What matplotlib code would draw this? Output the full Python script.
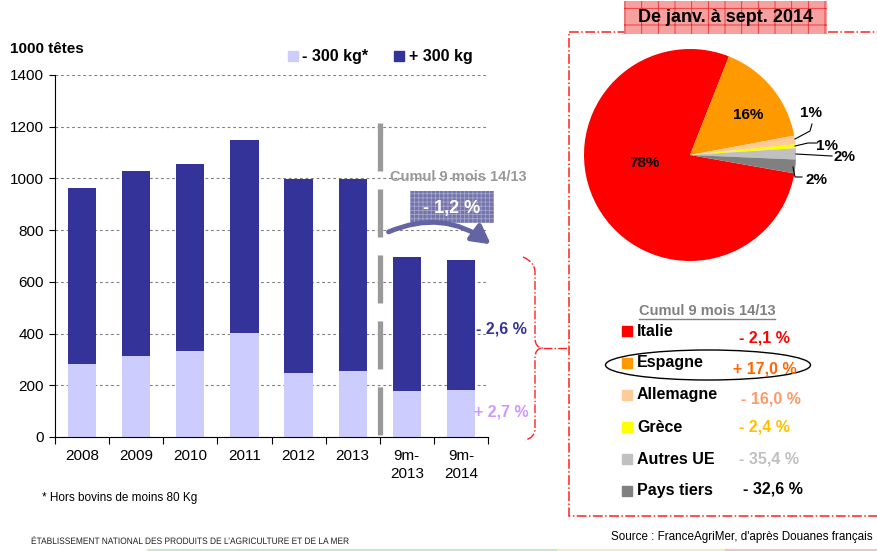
import matplotlib
matplotlib.use("Agg")
import matplotlib.pyplot as plt
from matplotlib.patches import Rectangle, Ellipse, FancyArrowPatch, PathPatch
from matplotlib.path import Path
from matplotlib.textpath import TextPath
from matplotlib.font_manager import FontProperties
from matplotlib.transforms import Affine2D
import numpy as np

plt.rcParams["font.family"] = ["Liberation Sans", "DejaVu Sans"]
plt.rcParams["hatch.linewidth"] = 0.6

W, H = 877, 551

# ---- bar chart: exports of live cattle, 1000 têtes ----
categories = ["2008", "2009", "2010", "2011", "2012", "2013", "9m-\n2013", "9m-\n2014"]
moins_300kg = [282, 313, 332, 402, 247, 254, 178, 182]
plus_300kg = [681, 716, 724, 746, 751, 744, 518, 502]
series_labels = ["- 300 kg*", "+ 300 kg"]
series_colors = ["#ccccff", "#333399"]
yticks = [0, 200, 400, 600, 800, 1000, 1200, 1400]

# ---- pie: destinations, janv.-sept. 2014 ----
pays = ["Italie", "Espagne", "Allemagne", "Grèce", "Autres UE", "Pays tiers"]
parts = [78.2, 16.1, 1.3, 0.6, 1.7, 2.1]
part_labels = ["78%", "16%", "1%", "1%", "2%", "2%"]
pie_colors = ["#ff0000", "#ff9900", "#ffcc99", "#ffff00", "#c0c0c0", "#808080"]
evolutions = ["- 2,1 %", "+ 17,0 %", "- 16,0 %", "- 2,4 %", "- 35,4 %", "- 32,6 %"]
evol_colors = ["#ff0000", "#ff6600", "#ff9966", "#ffc000", "#c0c0c0", "#000000"]

fig = plt.figure(figsize=(W / 100, H / 100), dpi=100)

# ---------------- bar chart ----------------
ax = fig.add_axes([55 / W, (H - 437) / H, (488 - 55) / W, (437 - 75) / H])
x = np.arange(len(categories))
ax.bar(x, moins_300kg, width=0.52, color=series_colors[0], zorder=2)
ax.bar(x, plus_300kg, width=0.52, bottom=moins_300kg, color=series_colors[1], zorder=2)
ax.set_xlim(-0.5, len(categories) - 0.5)
ax.set_ylim(0, 1400)
ax.set_yticks(yticks)
ax.tick_params(axis="y", direction="out", length=4, pad=4, labelsize=11)
ax.set_xticks(np.arange(-0.5, len(categories), 1))
ax.set_xticklabels([])
ax.set_xticks(x, minor=True)
ax.set_xticklabels(categories, minor=True, fontsize=11, linespacing=1.3)
ax.tick_params(axis="x", which="major", direction="out", length=5)
ax.tick_params(axis="x", which="minor", length=0, pad=9)
ax.yaxis.grid(True, linestyle=(0, (2.5, 2.5)), color="#808080", lw=0.8, zorder=0)
ax.set_axisbelow(True)
for s in ["top", "right"]:
    ax.spines[s].set_visible(False)
# gray separator between years and 9-month totals
ax.plot([5.5, 5.5], [1214, 0], color="#999999", lw=3.8, dashes=(9.1, 3.4),
        solid_capstyle="butt", dash_capstyle="butt", zorder=3, clip_on=False)

# ---------------- pie ----------------
r = 106
pax = fig.add_axes([(690 - r) / W, (H - 155 - r) / H, 2 * r / W, 2 * r / H])
pax.pie(parts, colors=pie_colors, startangle=-10, counterclock=False,
        wedgeprops=dict(linewidth=0))
pax.set_xlim(-1, 1)
pax.set_ylim(-1, 1)

# ---------------- overlay (pixel coords) ----------------
ov = fig.add_axes([0, 0, 1, 1])
ov.set_xlim(0, W)
ov.set_ylim(H, 0)
ov.axis("off")

ov.text(10, 49, "1000 têtes", fontsize=11, fontweight="bold", va="center")
for (sx, tx), lab, col in zip([(288, 302), (394, 409)], series_labels, series_colors):
    ov.add_patch(Rectangle((sx, 51), 10, 10, color=col))
    ov.text(tx, 56, lab, fontsize=11.5, fontweight="bold", va="center")

ov.text(42, 498, "* Hors bovins de moins 80 Kg", fontsize=8.5, va="center")

# condensed footer text: squeeze a text path horizontally
footer = "ÉTABLISSEMENT NATIONAL DES PRODUITS DE L\u2019AGRICULTURE ET DE LA MER"
tp = TextPath((0, 0), footer, size=9.3, prop=FontProperties(family="Liberation Sans"))
ext = tp.get_extents()
squeeze = 317 / ext.width
tp = Affine2D().scale(squeeze, -1).translate(31, 544).transform_path(tp)
ov.add_patch(PathPatch(tp, facecolor="#222222", lw=0))

ov.text(611, 537, "Source : FranceAgriMer, d'après Douanes français", fontsize=8.4,
        va="center")
# faint coloured rule at the bottom
for x0, x1, c in [(148, 558, "#c8e8c8"), (558, 726, "#eef0b0"), (726, 877, "#f4c0c0")]:
    ov.plot([x0, x1], [550, 550], color=c, lw=1.5)

# cumul annotation above 9-month bars
ov.text(458, 177, "Cumul 9 mois 14/13", fontsize=10.5, fontweight="bold",
        color="#999999", ha="center", va="center")
ov.add_patch(Rectangle((410, 191), 84, 32, facecolor="#7474ac", edgecolor="#a4a4cc",
                       hatch="++++", lw=0))
ov.text(452, 208, "- 1,2 %", fontsize=13, fontweight="bold", color="white",
        ha="center", va="center")
ov.add_patch(FancyArrowPatch((386, 233), (493, 246), connectionstyle="arc3,rad=-0.3",
                             arrowstyle="-|>,head_length=0.55,head_width=0.3",
                             color="#6464a4", lw=3.5, mutation_scale=20))
ov.text(501, 329, "- 2,6 %", fontsize=11.5, fontweight="bold", color="#333399",
        ha="center", va="center")
ov.text(501, 412, "+ 2,7 %", fontsize=11.5, fontweight="bold", color="#cc99ff",
        ha="center", va="center")

# red brace linking bars to right panel
brace = Path([(523, 257), (535, 262), (535, 272), (535, 338), (535, 348), (543, 348),
              (535, 348), (535, 358), (535, 428), (535, 438), (525, 440)],
             [Path.MOVETO, Path.CURVE3, Path.CURVE3, Path.LINETO, Path.CURVE3, Path.CURVE3,
              Path.CURVE3, Path.CURVE3, Path.LINETO, Path.CURVE3, Path.CURVE3])
ov.add_patch(PathPatch(brace, fill=False, edgecolor="#ff2020", lw=1, linestyle="-."))
ov.plot([543, 569], [348, 348], color="#ff2020", lw=1, linestyle="-.")

# right panel frame and title
ov.add_patch(Rectangle((569, 32), 330, 484, fill=False, edgecolor="#ff2020",
                       lw=1.1, linestyle="-.", clip_on=True))
ov.add_patch(Rectangle((624, 1), 203, 33, facecolor="#f6a0a0", edgecolor="#e83030",
                       hatch="+", lw=0))
ov.text(725, 18, "De janv. à sept. 2014", fontsize=13, fontweight="bold",
        ha="center", va="center")

# pie labels
label_xy = [(645, 163), (748, 115), (811, 113), (827, 146), (844, 157), (816, 180)]
for (lx, ly), lab in zip(label_xy, part_labels):
    ov.text(lx, ly, lab, fontsize=11, fontweight="bold", ha="center", va="center")
leaders = [[(795, 139), (810, 131), (812, 124)],
           [(795, 146), (808, 143), (817, 143)],
           [(796, 154), (832, 156)],
           [(793, 167), (795, 177), (802, 177)]]
for pts in leaders:
    xs, ys = zip(*pts)
    ov.plot(xs, ys, color="black", lw=0.8)

# legend with 9-month evolution
ov.text(707, 311, "Cumul 9 mois 14/13", fontsize=10.5, fontweight="bold",
        color="#808080", ha="center", va="center")
ov.plot([639, 775], [319, 319], color="#808080", lw=1)
pct_xy = [(764, 338), (765, 369), (771, 399), (764, 427), (769, 459), (773, 489)]
for i, (name, col, ev, ecol) in enumerate(zip(pays, pie_colors, evolutions, evol_colors)):
    y = 331 + 32 * i
    ov.add_patch(Rectangle((622, y - 5), 10, 10, color=col))
    ov.text(637, y, name, fontsize=11.5, fontweight="bold", va="center")
    px, py = pct_xy[i]
    ov.text(px, py, ev, fontsize=11.5, fontweight="bold", color=ecol,
            ha="center", va="center")
ov.add_patch(Ellipse((708, 365), 205, 30, fill=False, edgecolor="black", lw=1))

fig.savefig("out.png", dpi=100)
